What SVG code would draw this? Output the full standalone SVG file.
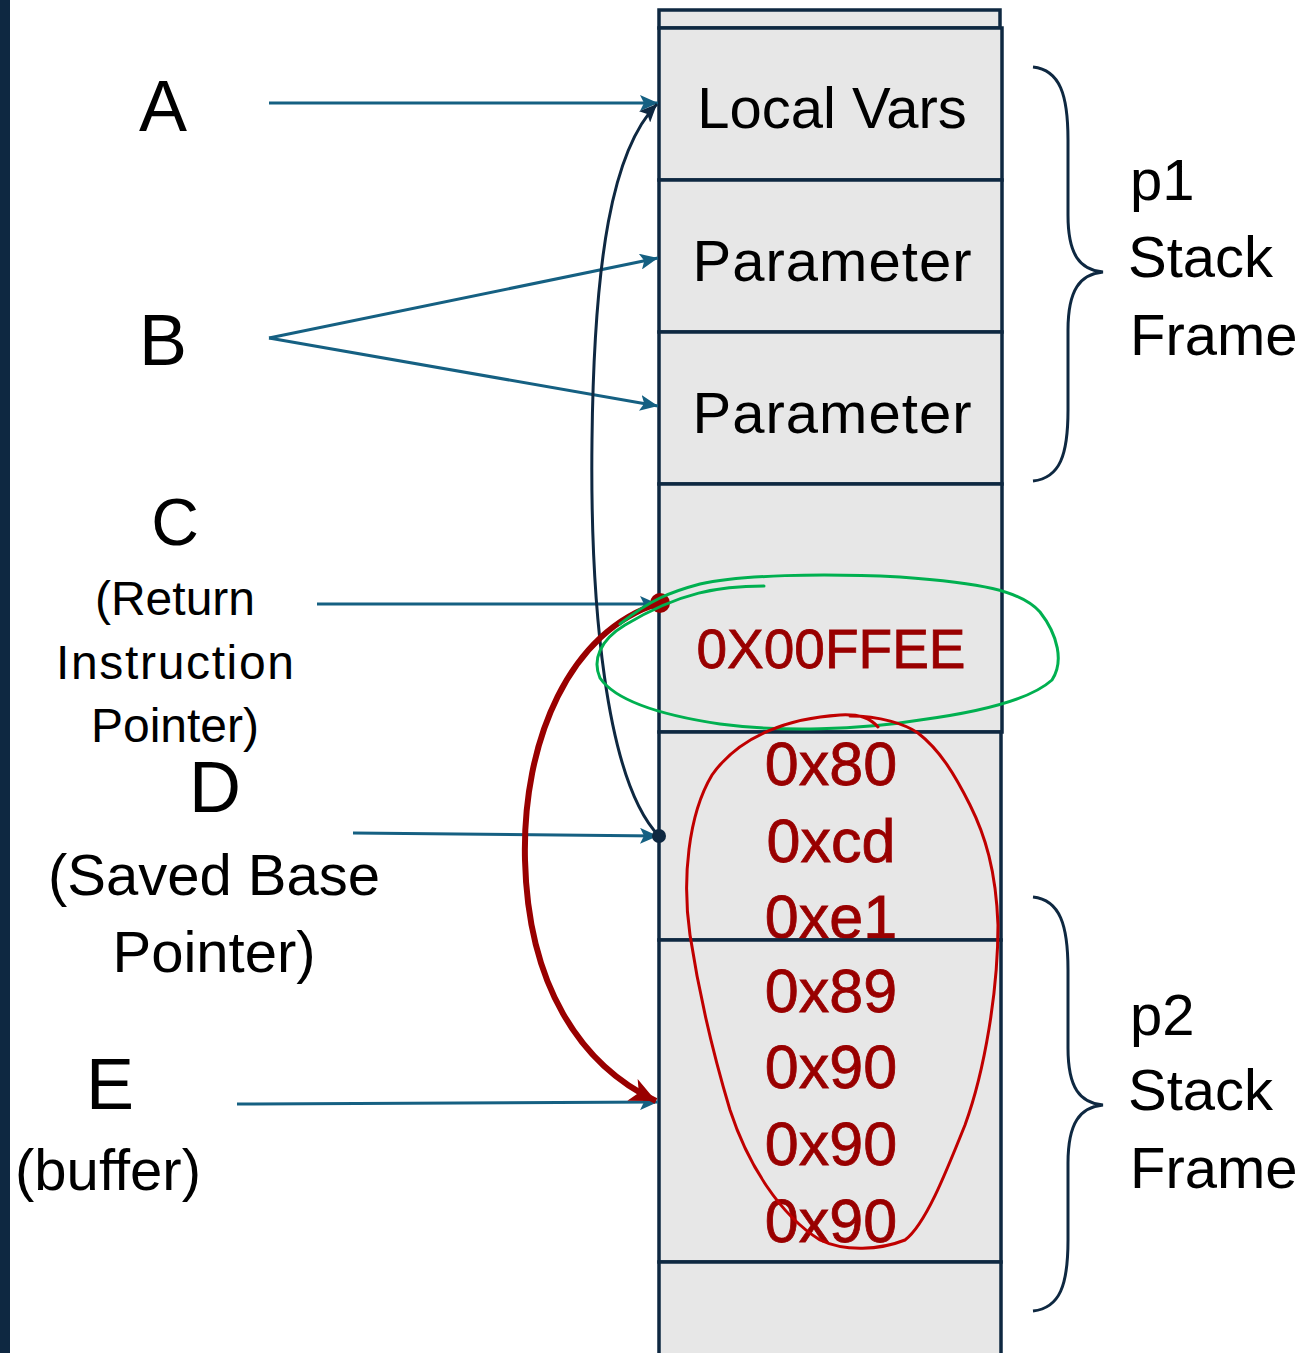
<svg xmlns="http://www.w3.org/2000/svg" width="1307" height="1353" viewBox="0 0 1307 1353">
  <style>
    .cell { fill: #e7e7e7; stroke: #0e2841; stroke-width: 3.5; }
    .lbl { font-family: "Liberation Sans", Arial, sans-serif; fill: #000; text-anchor: middle; }
    .cellTxt { font-family: "Liberation Sans", Arial, sans-serif; fill: #000; text-anchor: middle; font-size: 58px; }
    .hex { font-family: "Liberation Sans", Arial, sans-serif; fill: #990000; stroke: #990000; stroke-width: 0.8; text-anchor: middle; font-size: 61px; }
    .hex.addr { font-size: 55px; }
    .frame { font-family: "Liberation Sans", Arial, sans-serif; fill: #000; font-size: 58px; }
    .ptr { fill: none; stroke: #156082; stroke-width: 3; }
    .brace { fill: none; stroke: #0e2841; stroke-width: 3; }
  </style>
  <defs>
    <marker id="arrBlue" markerUnits="userSpaceOnUse" markerWidth="20" markerHeight="16" refX="18" refY="8" orient="auto">
      <path d="M0,0 L18,8 L0,16 L4,8 Z" fill="#156082"/>
    </marker>
    <marker id="arrDark" markerUnits="userSpaceOnUse" markerWidth="20" markerHeight="16" refX="18" refY="8" orient="auto">
      <path d="M0,0 L18,8 L0,16 L4,8 Z" fill="#0e2841"/>
    </marker>
    <marker id="arrRed" markerUnits="userSpaceOnUse" markerWidth="28" markerHeight="24" refX="26" refY="12" orient="auto">
      <path d="M0,0 L26,12 L0,24 L7,12 Z" fill="#990000"/>
    </marker>
  </defs>

  <rect x="0" y="0" width="10" height="1353" fill="#0e2841"/>

  <!-- stack cells -->
  <g id="cell-top"><rect class="cell" x="659" y="10" width="341" height="18"/></g>
  <g id="cell-locals">
    <rect class="cell" x="659" y="28" width="343" height="152"/>
    <text class="cellTxt" x="832" y="128">Local Vars</text>
  </g>
  <g id="cell-param1">
    <rect class="cell" x="659" y="180" width="343" height="152"/>
    <text class="cellTxt" x="832" y="281" textLength="279">Parameter</text>
  </g>
  <g id="cell-param2">
    <rect class="cell" x="659" y="332" width="343" height="152"/>
    <text class="cellTxt" x="832" y="433" textLength="279">Parameter</text>
  </g>
  <g id="cell-ret">
    <rect class="cell" x="659" y="484" width="343" height="248"/>
    <text class="hex addr" x="831" y="668">0X00FFEE</text>
  </g>
  <g id="cell-savedbp">
    <rect class="cell" x="659" y="732" width="342" height="208"/>
    <text class="hex" x="831" y="785">0x80</text>
    <text class="hex" x="831" y="862">0xcd</text>
    <text class="hex" x="831" y="938">0xe1</text>
  </g>
  <g id="cell-buffer">
    <rect class="cell" x="659" y="940" width="342" height="322"/>
    <text class="hex" x="831" y="1012">0x89</text>
    <text class="hex" x="831" y="1088">0x90</text>
    <text class="hex" x="831" y="1165">0x90</text>
    <text class="hex" x="831" y="1242">0x90</text>
  </g>
  <g id="cell-bottom"><rect class="cell" x="659" y="1262" width="342" height="95"/></g>

  <!-- left labels -->
  <g id="label-a"><text class="lbl" x="163" y="131" font-size="72">A</text></g>
  <g id="label-b"><text class="lbl" x="163" y="365" font-size="72">B</text></g>
  <g id="label-c">
    <text class="lbl" x="175" y="545" font-size="66">C</text>
    <text class="lbl" x="175" y="615" font-size="48">(Return</text>
    <text class="lbl" x="175" y="679" font-size="48" textLength="238">Instruction</text>
    <text class="lbl" x="175" y="742" font-size="48">Pointer)</text>
  </g>
  <g id="label-d">
    <text class="lbl" x="215" y="812" font-size="72">D</text>
    <text class="lbl" x="214" y="895" font-size="58">(Saved Base</text>
    <text class="lbl" x="214" y="972" font-size="58">Pointer)</text>
  </g>
  <g id="label-e">
    <text class="lbl" x="110" y="1109" font-size="72">E</text>
    <text class="lbl" x="108" y="1190" font-size="58">(buffer)</text>
  </g>

  <!-- frame braces -->
  <g id="frame-p1">
    <path class="brace" d="M1033,67 C1060,70 1068,95 1068,140 L1068,215 C1068,255 1080,270 1103,272 C1080,274 1068,290 1068,330 L1068,410 C1068,455 1060,478 1033,481"/>
    <text class="frame" x="1130" y="200">p1</text>
    <text class="frame" x="1128" y="277">Stack</text>
    <text class="frame" x="1130" y="355">Frame</text>
  </g>
  <g id="frame-p2">
    <path class="brace" d="M1033,897 C1060,900 1068,925 1068,970 L1068,1048 C1068,1088 1080,1103 1103,1105 C1080,1107 1068,1123 1068,1163 L1068,1240 C1068,1285 1060,1308 1033,1311"/>
    <text class="frame" x="1130" y="1035">p2</text>
    <text class="frame" x="1128" y="1110">Stack</text>
    <text class="frame" x="1130" y="1188">Frame</text>
  </g>

  <!-- connectors -->
  <g id="connectors">
    <line class="ptr" x1="269" y1="103" x2="658" y2="103" marker-end="url(#arrBlue)"/>
    <line class="ptr" x1="269" y1="338" x2="658" y2="258" marker-end="url(#arrBlue)"/>
    <line class="ptr" x1="269" y1="338" x2="658" y2="406" marker-end="url(#arrBlue)"/>
    <line class="ptr" x1="317" y1="604" x2="658" y2="604" marker-end="url(#arrBlue)"/>
    <line class="ptr" x1="353" y1="833" x2="658" y2="836" marker-end="url(#arrBlue)"/>
    <line class="ptr" x1="237" y1="1104" x2="658" y2="1102" marker-end="url(#arrBlue)"/>

    <!-- saved base pointer links back to previous frame -->
    <path d="M659,836 C605,780 590,600 592,440 C594,260 612,150 657,104" fill="none" stroke="#0e2841" stroke-width="3" marker-end="url(#arrDark)"/>
    <circle cx="659" cy="836" r="7" fill="#0e2841"/>

    <!-- overwritten return address now points into buffer -->
    <path d="M660,603 C570,630 522,740 525,860 C528,985 580,1065 656,1101" fill="none" stroke="#990000" stroke-width="6" marker-end="url(#arrRed)"/>
    <circle cx="660" cy="603" r="10" fill="#990000"/>
  </g>

  <!-- hand-drawn highlights -->
  <g id="highlights" fill="none" stroke-linecap="round" stroke-linejoin="round">
    <path d="M764,586 C720,586 680,592 625,625 C600,640 592,660 600,678 C615,700 660,715 720,724 C780,732 860,730 920,720 C980,712 1030,700 1052,680 C1064,662 1058,635 1040,612 C1020,590 980,583 900,577 C820,573 740,575 700,584 C670,592 650,600 620,624" stroke="#00b050" stroke-width="3"/>
    <path d="M878,727 C870,718 860,714 840,715 C790,718 740,735 712,775 C688,815 682,880 690,935 C700,1000 715,1060 730,1110 C748,1165 780,1215 820,1240 C845,1252 880,1250 905,1240 C925,1225 945,1175 965,1125 C985,1070 998,990 998,925 C996,870 985,835 970,805 C955,775 940,750 918,733 C905,724 880,716 850,716" stroke="#c00000" stroke-width="3"/>
  </g>
</svg>
